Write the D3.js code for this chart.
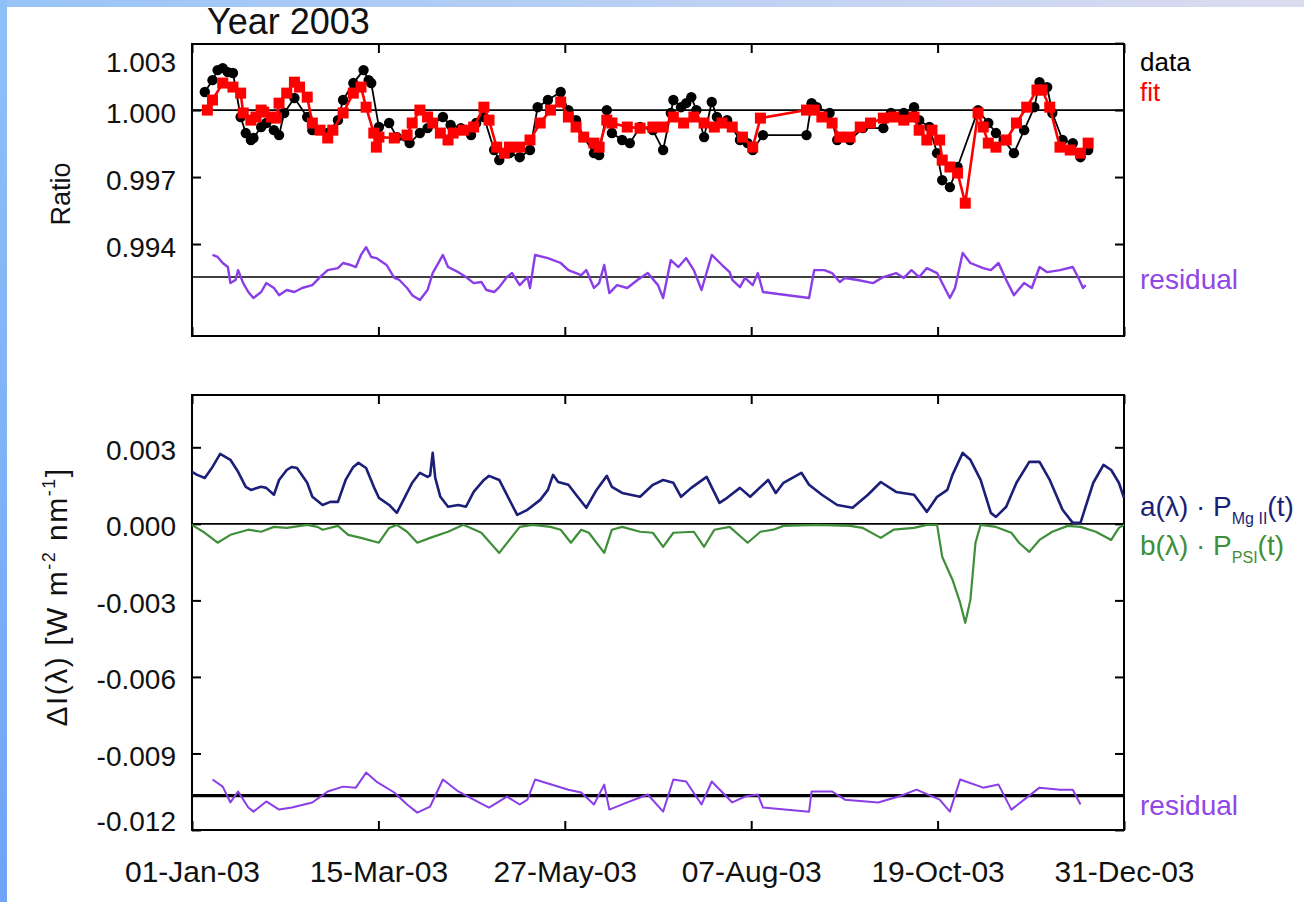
<!DOCTYPE html>
<html>
<head>
<meta charset="utf-8">
<style>
  body { margin: 0; background: #fff; }
  svg text { font-family: "Liberation Sans", Arial, Helvetica, sans-serif; }
  .frame { fill: none; stroke: #000; stroke-width: 2px; }
  .axis path { display: none; }
  .axis line { stroke: #000; stroke-width: 2px; }
  .axis text { font-size: 28px; fill: #111; }
  .xlab text { font-size: 30px; }
  .zero { stroke: #000; stroke-width: 1.6px; }
  .line { fill: none; stroke-linejoin: round; }
</style>
</head>
<body>
<script src="https://d3js.org/d3.v7.min.js"></script>
<script>
// ---- data (day of year 2003, 0 = 01-Jan) ----

// top panel: measured ratio (black dots)
var dataDays = [5,8,10,12,14,16,19,21,23,24,27,29,32,34,36,40,45,47,53,57,59,63,67,69,70,73,77,80,85,89,92,98,101,105,109,111,114,118,120,124,128,132,135,139,144,147,150,153,157,159,162,164,168,171,175,180,184,187,188,191,193,195,197,200,203,205,209,214,217,219,223,240,242,244,249,252,257,262,270,273,278,282,284,288,291,293,296,299,307,311,314,317,321,325,329,331,334,336,340,344,347,350];
var dataVals = [1.00081,1.00134,1.00179,1.00188,1.00170,1.00166,0.99969,0.99897,0.99866,0.99875,0.99924,0.99942,0.99910,0.99888,0.99987,1.00054,0.99969,0.99910,0.99897,0.99955,1.00045,1.00121,1.00179,1.00134,1.00121,0.99924,0.99942,0.99879,0.99852,0.99897,0.99919,0.99969,0.99933,0.99919,0.99888,0.99942,0.99969,0.99821,0.99776,0.99807,0.99789,0.99821,1.00013,1.00045,1.00081,1.00000,0.99955,0.99879,0.99807,0.99798,1.00000,0.99897,0.99866,0.99852,0.99924,0.99910,0.99821,0.99987,1.00045,1.00013,1.00031,1.00058,1.00000,0.99879,1.00036,0.99969,0.99955,0.99866,0.99852,0.99821,0.99888,0.99888,1.00031,1.00013,0.99987,0.99866,0.99866,0.99919,0.99919,0.99987,0.99987,1.00013,0.99955,0.99924,0.99807,0.99686,0.99655,0.99745,1.00000,0.99942,0.99897,0.99866,0.99807,0.99910,1.00013,1.00125,1.00103,0.99987,0.99866,0.99852,0.99789,0.99821];

// top panel: fit (red squares)
var fitDays = [6,8,12,16,19,20,23,25,27,28,31,33,34,37,40,42,45,47,50,53,55,59,63,66,68,71,72,73,79,84,86,89,92,94,97,100,102,106,110,114,116,119,122,124,128,132,136,140,144,147,150,153,157,159,162,164,170,175,180,184,188,192,196,200,204,207,211,215,219,222,240,243,246,250,253,257,261,265,270,274,278,282,284,287,289,292,293,296,299,302,307,309,311,314,318,322,326,330,332,335,339,343,347,350];
var fitVals = [1.00000,1.00045,1.00121,1.00103,1.00076,0.99987,0.99955,0.99969,1.00000,0.99991,0.99969,0.99964,1.00031,1.00076,1.00125,1.00103,1.00058,0.99942,0.99910,0.99875,0.99910,0.99987,1.00076,1.00103,1.00013,0.99897,0.99834,0.99879,0.99875,0.99888,0.99942,1.00000,0.99969,0.99942,0.99897,0.99866,0.99897,0.99910,0.99924,1.00013,0.99955,0.99834,0.99807,0.99834,0.99834,0.99866,0.99942,1.00000,1.00036,0.99969,0.99924,0.99879,0.99852,0.99834,0.99955,0.99942,0.99924,0.99919,0.99924,0.99924,0.99969,0.99942,0.99969,0.99942,0.99924,0.99942,0.99924,0.99879,0.99834,0.99964,1.00000,1.00000,0.99969,0.99942,0.99879,0.99879,0.99924,0.99942,0.99964,0.99969,0.99955,0.99969,0.99910,0.99866,0.99910,0.99866,0.99776,0.99745,0.99718,0.99583,0.99987,0.99924,0.99852,0.99834,0.99866,0.99942,1.00013,1.00090,1.00090,1.00013,0.99834,0.99821,0.99807,0.99852];

// top panel: residual data - fit (purple, drawn about an offset baseline)
var resTopDays = [8,10,12,14,15,17,18,20,22,24,27,29,32,34,37,40,43,47,50,53,57,59,62,64,66,68,70,72,76,79,81,84,86,89,92,94,98,100,104,107,110,113,115,118,120,123,125,128,131,132,134,139,144,147,149,152,154,157,159,161,163,166,170,174,178,182,184,187,190,193,196,199,203,207,210,211,214,216,219,221,223,241,243,247,250,253,255,260,266,270,275,278,281,284,287,291,296,298,301,304,309,312,315,318,321,325,328,331,334,339,344,346,348,349];
var resTopVals = [0.00099,0.00090,0.00063,0.00045,-0.00027,-0.00013,0.00031,-0.00027,-0.00067,-0.00094,-0.00067,-0.00027,-0.00049,-0.00081,-0.00058,-0.00067,-0.00049,-0.00036,0,0.00031,0.00040,0.00063,0.00054,0.00045,0.00099,0.00134,0.00090,0.00085,0.00054,-0.00004,-0.00013,-0.00049,-0.00081,-0.00103,-0.00058,0.00018,0.00099,0.00045,0.00022,0,-0.00027,-0.00022,-0.00058,-0.00067,-0.00045,0,0.00018,-0.00036,0,-0.00049,0.00099,0.00085,0.00063,0.00031,0.00022,0.00009,0.00031,-0.00049,-0.00027,0.00054,-0.00072,-0.00036,-0.00049,-0.00013,0.00018,-0.00036,-0.00094,0.00076,0.00045,0.00085,0.00031,-0.00058,0.00099,0.00054,0.00022,-0.00013,-0.00045,-0.00004,-0.00036,0.00018,-0.00067,-0.00094,0.00031,0.00031,0.00018,-0.00022,-0.00004,-0.00013,-0.00027,0,0.00018,-0.00004,0.00031,0,0.00040,0.00018,-0.00094,-0.00049,0.00108,0.00063,0.00040,0.00031,0.00063,-0.00013,-0.00081,-0.00027,-0.00049,0.00045,0.00022,0.00031,0.00045,0,-0.00049,-0.00036];

// bottom panel: a(lambda)*P_MgII(t) (navy)
var mgDays = [0,2,5,8,11,15,18,21,23,27,29,32,34,37,39,41,45,47,51,54,57,60,63,65,68,71,73,77,80,82,86,89,92,93,94,95,97,100,104,107,110,114,116,120,122,127,131,136,139,141,143,147,150,154,158,162,164,168,175,180,184,188,191,195,201,206,209,214,218,225,228,231,238,241,246,252,258,264,269,275,282,287,291,295,297,301,304,308,312,314,318,322,327,331,335,340,344,347,352,356,359,362,364];
var mgVals = [0.00204,0.00192,0.00180,0.00223,0.00274,0.00251,0.00204,0.00145,0.00133,0.00145,0.00141,0.00114,0.00172,0.00211,0.00223,0.00219,0.00161,0.00106,0.00074,0.00086,0.00086,0.00172,0.00223,0.00239,0.00219,0.00145,0.00102,0.00074,0.00043,0.00082,0.00161,0.00200,0.00184,0.00190,0.00278,0.00180,0.00106,0.00067,0.00074,0.00067,0.00125,0.00172,0.00188,0.00172,0.00133,0.00035,0.00055,0.00094,0.00133,0.00192,0.00164,0.00153,0.00114,0.00063,0.00133,0.00188,0.00145,0.00121,0.00106,0.00153,0.00172,0.00161,0.00106,0.00141,0.00184,0.00082,0.00102,0.00141,0.00106,0.00172,0.00121,0.00161,0.00200,0.00153,0.00114,0.00074,0.00063,0.00114,0.00164,0.00125,0.00114,0.00047,0.00106,0.00133,0.00192,0.00278,0.00251,0.00172,0.00043,0.00027,0.00067,0.00161,0.00243,0.00243,0.00172,0.00055,0.00004,0.00004,0.00161,0.00231,0.00211,0.00161,0.00102];

// bottom panel: b(lambda)*P_PSI(t) (green)
var psiDays = [0,5,10,15,22,27,32,37,45,49,51,57,61,66,73,77,80,84,88,93,100,106,113,120,124,128,133,140,144,148,152,155,161,164,168,175,180,184,188,196,200,204,210,217,222,227,231,244,257,262,269,274,282,287,291,293,297,300,302,304,306,308,314,320,323,327,331,336,342,347,353,359,362,364];
var psiVals = [-0.00004,-0.00035,-0.00074,-0.00043,-0.00023,-0.00031,-0.00012,-0.00016,-0.00004,-0.00012,-0.00023,-0.00008,-0.00043,-0.00055,-0.00074,-0.00016,-0.00004,-0.00031,-0.00074,-0.00055,-0.00031,-0.00004,-0.00035,-0.00114,-0.00063,-0.00012,-0.00004,-0.00012,-0.00023,-0.00074,-0.00023,-0.00035,-0.00114,-0.00023,-0.00012,-0.00031,-0.00035,-0.00090,-0.00035,-0.00031,-0.00090,-0.00023,-0.00012,-0.00074,-0.00031,-0.00023,-0.00008,-0.00004,-0.00008,-0.00016,-0.00055,-0.00023,-0.00016,-0.00004,-0.00004,-0.00129,-0.00219,-0.00309,-0.00388,-0.00298,-0.00074,-0.00004,-0.00012,-0.00035,-0.00074,-0.00110,-0.00063,-0.00031,-0.00008,-0.00012,-0.00031,-0.00063,-0.00016,-0.00004];

// bottom panel: residual (purple, drawn about an offset baseline)
var resBotDays = [8,12,15,18,22,24,29,34,39,47,53,59,64,68,72,79,84,88,93,98,104,110,116,123,128,131,134,147,152,157,161,163,170,178,184,188,193,199,203,211,216,221,223,241,242,250,255,268,276,283,292,296,300,309,315,320,325,331,339,344,347];
var resBotVals = [0.00063,0.00035,-0.00027,0.00016,-0.00047,-0.00063,-0.00023,-0.00055,-0.00047,-0.00027,0.00016,0.00035,0.00031,0.00090,0.00055,0.00012,-0.00035,-0.00067,-0.00043,0.00063,0.00016,-0.00016,-0.00047,-0.00004,-0.00035,-0.00016,0.00063,0.00023,0.00012,-0.00035,0.00043,-0.00055,-0.00027,0.00004,-0.00063,0.00063,0.00055,-0.00035,0.00055,-0.00027,-0.00004,0.00004,-0.00047,-0.00063,0.00016,0.00016,-0.00016,-0.00027,-0.00004,0.00023,-0.00016,-0.00063,0.00063,0.00031,0.00043,-0.00055,-0.00016,0.00031,0.00023,0.00023,-0.00035];

// axes
var xTickDays = [0, 72.8, 145.6, 218.4, 291.2, 364];
var xTickLabels = ["01-Jan-03", "15-Mar-03", "27-May-03", "07-Aug-03", "19-Oct-03", "31-Dec-03"];
var topTicks = [0.994, 0.997, 1.000, 1.003];
var botTicks = [0.003, 0.000, -0.003, -0.006, -0.009, -0.012];
var topResBase = 0.99252;   // where the residual is drawn in the ratio panel
var botResBase = -0.01065;  // where the residual is drawn in the flux panel

// ---- layout ----
var W = 1304, H = 902;
var L = 192, R = 1124;
var topPanel = {y0: 44, y1: 336};
var botPanel = {y0: 395, y1: 830};

var svg = d3.select("body").append("svg")
    .attr("width", W).attr("height", H);

// light blue slide border
var defs = svg.append("defs");
var g1 = defs.append("linearGradient").attr("id", "gTop");
g1.append("stop").attr("offset", "0%").attr("stop-color", "#98c4f8");
g1.append("stop").attr("offset", "100%").attr("stop-color", "#dcdcf0");
var g2 = defs.append("linearGradient").attr("id", "gLeft")
    .attr("x1", 0).attr("y1", 0).attr("x2", 0).attr("y2", 1);
g2.append("stop").attr("offset", "0%").attr("stop-color", "#8fc0f8");
g2.append("stop").attr("offset", "100%").attr("stop-color", "#6fa4f6");
svg.append("rect").attr("x", 0).attr("y", 0).attr("width", W).attr("height", 7).attr("fill", "url(#gTop)");
svg.append("rect").attr("x", 0).attr("y", 0).attr("width", 7).attr("height", H).attr("fill", "url(#gLeft)");

var x = d3.scaleLinear().domain([0, 364]).range([L, R]);
var yTop = d3.scaleLinear().domain([0.98988, 1.00296]).range([topPanel.y1, topPanel.y0]);
var yBot = d3.scaleLinear().domain([-0.012, 0.00505]).range([botPanel.y1, botPanel.y0]);

function pts(days, vals) {
  return days.map(function(d, i) { return {d: d, v: vals[i]}; });
}

var fmt3 = d3.format(".3f");
function tickFmt(d) { return fmt3(d).replace("\u2212", "-"); }

function frameAxes(y, panel, yTicks, showXLabels) {
  svg.append("g").attr("class", "axis")
      .attr("transform", "translate(0," + panel.y0 + ")")
      .call(d3.axisTop(x).tickValues(xTickDays).tickSizeInner(-9).tickSizeOuter(0).tickFormat(""));
  svg.append("g").attr("class", "axis xlab")
      .attr("transform", "translate(0," + panel.y1 + ")")
      .call(d3.axisBottom(x).tickValues(xTickDays).tickSizeInner(-9).tickSizeOuter(0).tickPadding(31)
        .tickFormat(function(d, i) { return showXLabels ? xTickLabels[i] : ""; }));
  var yl = svg.append("g").attr("class", "axis")
      .attr("transform", "translate(" + L + ",0)")
      .call(d3.axisLeft(y).tickValues(yTicks).tickSizeInner(-9).tickSizeOuter(0).tickPadding(16).tickFormat(tickFmt));
  yl.selectAll("text").attr("dy", "0.43em");
  svg.append("g").attr("class", "axis")
      .attr("transform", "translate(" + R + ",0)")
      .call(d3.axisRight(y).tickValues(yTicks).tickSizeInner(-9).tickSizeOuter(0).tickFormat(""));
  svg.append("rect").attr("class", "frame")
      .attr("x", L).attr("y", panel.y0)
      .attr("width", R - L).attr("height", panel.y1 - panel.y0);
  return yl;
}

// ---- top panel ----
var ylTop = frameAxes(yTop, topPanel, topTicks, false);
// the 1.003 label sits inside the frame edge, its tick falls on the border
ylTop.selectAll(".tick").filter(function(d) { return d > yTop.domain()[1]; })
    .each(function() {
      d3.select(this).select("line").remove();
      d3.select(this).select("text").attr("dy", "1.0em");
    });

svg.append("line").attr("class", "zero")
    .attr("x1", L).attr("x2", R).attr("y1", yTop(1)).attr("y2", yTop(1));
svg.append("line").attr("class", "zero")
    .attr("x1", L).attr("x2", R).attr("y1", yTop(topResBase)).attr("y2", yTop(topResBase));

var dataPts = pts(dataDays, dataVals);
var fitPts = pts(fitDays, fitVals);
var resTopPts = pts(resTopDays, resTopVals);

var lineTop = d3.line().x(function(p) { return x(p.d); }).y(function(p) { return yTop(p.v); });
var lineTopRes = d3.line().x(function(p) { return x(p.d); }).y(function(p) { return yTop(topResBase + p.v); });

svg.append("path").datum(dataPts).attr("class", "line")
    .attr("stroke", "#000").attr("stroke-width", 1.8).attr("d", lineTop);
svg.append("g").selectAll("circle").data(dataPts).enter().append("circle")
    .attr("cx", function(p) { return x(p.d); })
    .attr("cy", function(p) { return yTop(p.v); })
    .attr("r", 5.2).attr("fill", "#000");

svg.append("path").datum(fitPts).attr("class", "line")
    .attr("stroke", "#f00").attr("stroke-width", 2.6).attr("d", lineTop);
svg.append("g").selectAll("rect").data(fitPts).enter().append("rect")
    .attr("x", function(p) { return x(p.d) - 5.5; })
    .attr("y", function(p) { return yTop(p.v) - 5.5; })
    .attr("width", 11).attr("height", 11).attr("fill", "#f00");

svg.append("path").datum(resTopPts).attr("class", "line")
    .attr("stroke", "#8a3ee8").attr("stroke-width", 2.4).attr("d", lineTopRes);

// ---- bottom panel ----
var ylBot = frameAxes(yBot, botPanel, botTicks, true);
ylBot.selectAll(".tick").filter(function(d) { return d <= -0.012; })
    .select("text").attr("dy", "0.0em");

svg.append("line").attr("class", "zero")
    .attr("x1", L).attr("x2", R).attr("y1", yBot(0)).attr("y2", yBot(0));
svg.append("line")
    .attr("x1", L).attr("x2", R).attr("y1", yBot(botResBase)).attr("y2", yBot(botResBase))
    .attr("stroke", "#000").attr("stroke-width", 3.2);

var lineBot = d3.line().x(function(p) { return x(p.d); }).y(function(p) { return yBot(p.v); });
var lineBotRes = d3.line().x(function(p) { return x(p.d); }).y(function(p) { return yBot(botResBase + p.v); });

svg.append("path").datum(pts(psiDays, psiVals)).attr("class", "line")
    .attr("stroke", "#3f8f3a").attr("stroke-width", 2.2).attr("d", lineBot);
svg.append("path").datum(pts(mgDays, mgVals)).attr("class", "line")
    .attr("stroke", "#1c1f78").attr("stroke-width", 2.6).attr("d", lineBot);
svg.append("path").datum(pts(resBotDays, resBotVals)).attr("class", "line")
    .attr("stroke", "#8a3ee8").attr("stroke-width", 2).attr("d", lineBotRes);

// ---- texts ----
svg.append("text").attr("x", 207).attr("y", 34)
    .attr("font-size", 36).attr("fill", "#111").text("Year 2003");

svg.append("text").attr("transform", "translate(70,194) rotate(-90)")
    .attr("text-anchor", "middle").attr("font-size", 27).attr("fill", "#111").text("Ratio");

var yt = svg.append("text").attr("transform", "translate(67,597) rotate(-90)")
    .attr("text-anchor", "middle").attr("font-size", 30).attr("letter-spacing", 1.5).attr("fill", "#111");
yt.append("tspan").text("\u0394I(\u03bb) [W m");
yt.append("tspan").attr("dy", -12).attr("font-size", 18).text("-2");
yt.append("tspan").attr("dy", 12).text(" nm");
yt.append("tspan").attr("dy", -12).attr("font-size", 18).text("-1");
yt.append("tspan").attr("dy", 12).text("]");

svg.append("text").attr("x", 1140).attr("y", 71).attr("font-size", 26).attr("fill", "#000").text("data");
svg.append("text").attr("x", 1140).attr("y", 101).attr("font-size", 26).attr("fill", "#f00").text("fit");
svg.append("text").attr("x", 1140).attr("y", 289).attr("font-size", 28).attr("fill", "#9146e8").text("residual");
svg.append("text").attr("x", 1140).attr("y", 815).attr("font-size", 28).attr("fill", "#9146e8").text("residual");

function funcLabel(y, color, head, sub) {
  var t = svg.append("text").attr("x", 1140).attr("y", y).attr("font-size", 28).attr("fill", color);
  t.append("tspan").text(head + "(\u03bb) \u00b7 P");
  t.append("tspan").attr("dy", 8).attr("font-size", 16).text(sub);
  t.append("tspan").attr("dy", -8).text("(t)");
}
funcLabel(516, "#1c1f78", "a", "Mg II");
funcLabel(555, "#3f8f3a", "b", "PSI");
</script>
</body>
</html>
